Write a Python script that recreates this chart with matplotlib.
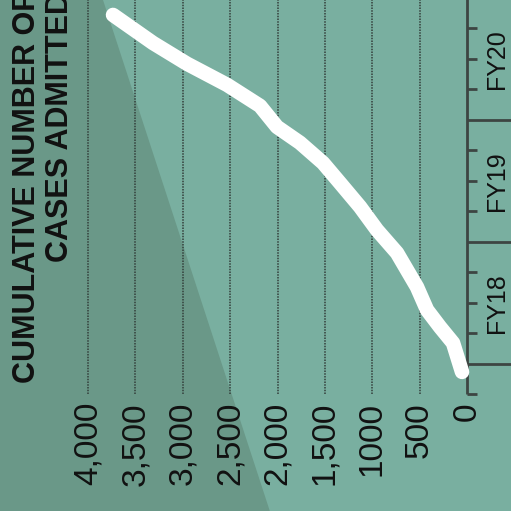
import matplotlib
matplotlib.use("Agg")
import matplotlib.pyplot as plt

plt.rcParams['font.family'] = ['Liberation Sans', 'DejaVu Sans']

# time in fiscal quarters from start of FY18, cumulative cases admitted
quarters = [-0.26, 0.69, 1.21, 1.77, 2.52, 3.64, 4.39, 5.15, 5.93, 6.59, 7.25, 7.77, 8.46, 9.15, 9.84, 10.52, 11.44]
cases = [53, 148, 285, 422, 528, 739, 950, 1129, 1340, 1520, 1763, 2005, 2185, 2533, 2955, 3314, 3736]

grid_vals = [500, 1000, 1500, 2000, 2500, 3000, 3500, 4000]
tick_vals = [0, 500, 1000, 1500, 2000, 2500, 3000, 3500, 4000]
tick_text = ["0", "500", "1000", "1,500", "2,000", "2,500", "3,000", "3,500", "4,000"]
fy_labels = ["FY18", "FY19", "FY20"]
fy_centers = [2, 6, 10]
title1 = "CUMULATIVE NUMBER OF"
title2 = "CASES ADMITTED"

light = "#79afa0"
dark = "#6a9888"
ink = "#111111"

fig = plt.figure(figsize=(5.11, 5.11), dpi=100)
fig.patch.set_facecolor(light)
ax = fig.add_axes([0, 0, 1, 1])
ax.set_facecolor(light)
ax.axis("off")
ax.set_xlim(4929, -464)
ax.set_ylim(-4.82, 11.93)

# darker diagonal shade on the left
ax.fill([0, 0.2016, 0.528, 0], [1, 1, 0, 0], color=dark, transform=ax.transAxes, zorder=0, lw=0)

# dotted gridlines
ax.vlines(grid_vals, -1, 12, colors="#34403c", linestyles=(0, (1, 0.8)), lw=1.1, zorder=1)

# time axis with quarterly ticks
ax.vlines(0, -1, 12, colors="#3d4542", lw=2, zorder=2)
minor_q = [q for q in range(-1, 12) if q not in (0, 4, 8)]
ax.hlines(minor_q, 0, -105, colors="#3d4542", lw=2, zorder=2)
ax.hlines([0, 4, 8], 0, -470, colors="#3d4542", lw=2, zorder=2)

for lab, c in zip(fy_labels, fy_centers):
    ax.text(-317, c, lab, rotation=90, ha="center", va="center", fontsize=18, color=ink)

for v, s in zip(tick_vals, tick_text):
    ax.text(v, -1.25, s, rotation=90, rotation_mode="anchor", ha="right", va="center",
            fontsize=24, color=ink)

ax.text(4559, -0.62, title1, rotation=90, rotation_mode="anchor", ha="left", va="baseline",
        fontsize=22, fontweight="bold", color=ink)
ax.text(4210, 3.34, title2, rotation=90, rotation_mode="anchor", ha="left", va="baseline",
        fontsize=22, fontweight="bold", color=ink)

ax.plot(cases, quarters, color="white", lw=10.5, solid_capstyle="round",
        solid_joinstyle="round", zorder=3)

fig.savefig("out.png", dpi=100, facecolor=light)
